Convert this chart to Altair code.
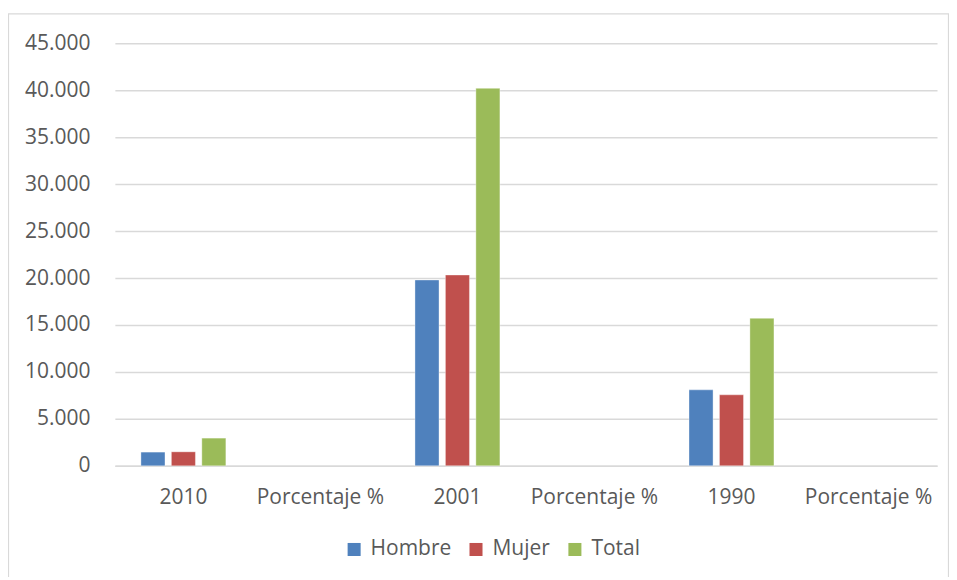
import altair as alt
import pandas as pd

categories = ["2010", "P2010", "2001", "P2001", "1990", "P1990"]
series = ["Hombre", "Mujer", "Total"]
hombre = [1460, None, 19790, None, 8090, None]
mujer = [1490, None, 20320, None, 7560, None]
total = [2950, None, 40200, None, 15710, None]
colors = ["#4F81BD", "#C0504D", "#9BBB59"]

rows = []
for i, c in enumerate(categories):
    for s, vals in zip(series, [hombre, mujer, total]):
        rows.append({"cat": c, "serie": s, "valor": vals[i]})
df = pd.DataFrame(rows)

FONT = "Open Sans"
FS = 21
W, H = 823, 423
PL, PT, PR, PB = 107, 35, 12, 111

bars = alt.Chart(df).mark_bar(stroke="white", strokeWidth=0.6, strokeOpacity=0.6).encode(
    x=alt.X("cat:N", sort=categories,
            scale=alt.Scale(domain=categories, paddingInner=0, paddingOuter=0),
            axis=alt.Axis(title=None, labelAngle=0, ticks=False, domain=True,
                          domainColor="#D9D9D9", domainWidth=1.5,
                          labelExpr="indexof(datum.value, 'P') == 0 ? 'Porcentaje %' : datum.value",
                          labelPadding=21, labelFont=FONT, labelFontSize=FS,
                          labelColor="#595959", grid=False)),
    xOffset=alt.XOffset("serie:N", sort=series,
                        scale=alt.Scale(paddingInner=0.21, paddingOuter=0.855)),
    y=alt.Y("valor:Q",
            scale=alt.Scale(domain=[0, 45000], nice=False),
            axis=alt.Axis(title=None, values=list(range(0, 45001, 5000)),
                          labelExpr="replace(format(datum.value, ','), ',', '.')",
                          ticks=False, domain=False, grid=True,
                          gridColor="#D9D9D9", gridWidth=1.5,
                          labelPadding=25, labelFont=FONT, labelFontSize=FS,
                          labelColor="#595959")),
    color=alt.Color("serie:N", sort=series,
                    scale=alt.Scale(domain=series, range=colors),
                    legend=alt.Legend(title=None, orient="none", direction="horizontal",
                                      legendX=229, legendY=496,
                                      symbolType="square", symbolSize=170,
                                      symbolStrokeWidth=0, labelFont=FONT,
                                      labelFontSize=FS, labelColor="#595959",
                                      columnPadding=14, labelOffset=6)),
)

frame = alt.Chart(pd.DataFrame({"k": [0]})).mark_rect(
    fill=None, stroke="#D9D9D9", strokeWidth=1.2, clip=False
).encode(
    x=alt.value(-PL + 0.5), x2=alt.value(W + PR - 0.5),
    y=alt.value(-PT + 5.5), y2=alt.value(H + PB + 20),
)

chart = alt.layer(frame, bars).properties(
    width=W, height=H,
    autosize=alt.AutoSizeParams(type="none"),
    padding={"left": PL, "top": PT, "right": PR, "bottom": PB},
    background="white",
).configure_view(stroke=None)

chart.save("out.html", embed_options={"renderer": "svg", "actions": False})
